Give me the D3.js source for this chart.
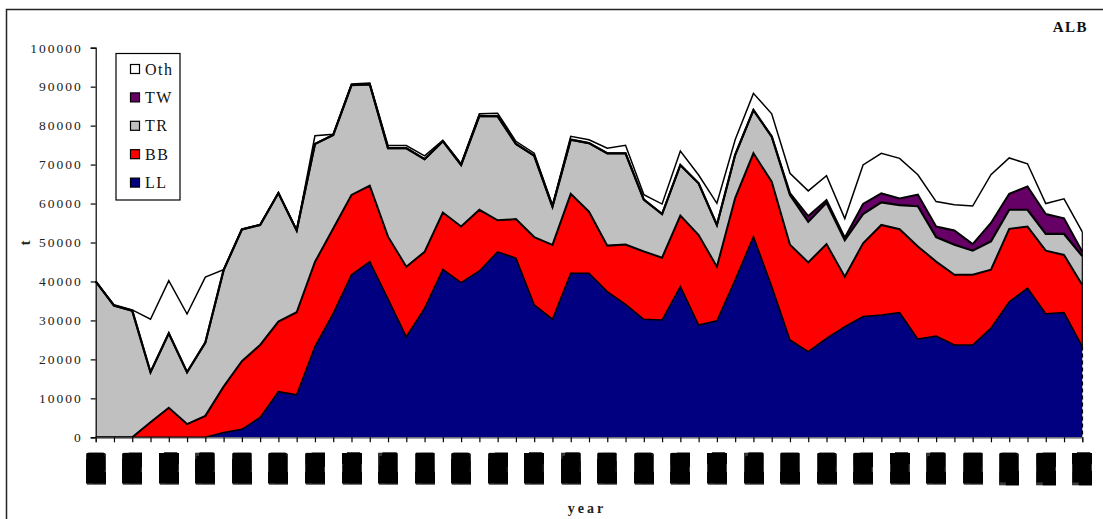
<!DOCTYPE html>
<html>
<head>
<meta charset="utf-8">
<script src="https://cdn.jsdelivr.net/npm/d3@7"></script>
<style>
  html, body { margin: 0; padding: 0; background: #fff; }
  svg { display: block; }
</style>
</head>
<body>
<svg id="chart" width="1103" height="519"></svg>
<script>
const years = [1950,1951,1952,1953,1954,1955,1956,1957,1958,1959,1960,1961,1962,1963,1964,1965,1966,1967,1968,1969,1970,1971,1972,1973,1974,1975,1976,1977,1978,1979,1980,1981,1982,1983,1984,1985,1986,1987,1988,1989,1990,1991,1992,1993,1994,1995,1996,1997,1998,1999,2000,2001,2002,2003,2004];
const LL  = [0,0,0,0,0,0,0,1200,2050,5100,11700,10900,23300,31800,41700,45100,35500,25800,33100,43100,39700,42700,47600,46000,34000,30300,42100,42100,37400,34100,30300,30100,38700,28800,29900,40400,51500,38700,25000,22000,25400,28400,31000,31400,32000,25200,26000,23700,23700,28000,34800,38300,31700,32000,23300];
const BB  = [0,0,0,3850,7600,3400,5500,11800,17500,18600,18000,21200,21700,21800,20500,19500,16000,18000,14500,14600,14400,15700,8100,10000,17400,19100,20400,15800,11800,15400,17400,16000,18200,23100,13900,21000,21400,26900,24400,22900,24200,12800,18800,23100,21400,23800,19100,18000,18000,15000,18700,15800,16200,14800,15800];
const TR  = [40000,33800,32500,12850,19100,13300,18800,29900,33800,30800,33000,21000,30300,24000,28200,26000,22700,30400,23800,18300,15800,24100,26700,19300,20900,9800,13900,17600,23700,23400,13300,11200,13000,13300,10700,11100,11100,11600,12800,10400,10600,9400,7500,5800,6200,10300,6300,7700,6200,7300,4900,4300,4300,5400,7400];
const TW  = [0,0,0,0,0,0,0,0,0,0,0,0,0,0,0,0,0,0,0,0,0,0,0,0,0,0,0,0,0,0,0,0,0,0,0,0,0,0,500,1500,700,650,2600,2300,1700,3000,2700,3700,1700,4700,4100,6000,5100,4000,1100];
const Oth = [0,200,200,13600,13500,14950,16800,100,100,100,100,100,2100,200,260,300,680,680,850,240,300,520,770,670,610,400,840,850,1280,2050,1290,2570,3590,2130,5560,3850,4280,5840,5070,6450,6240,4900,10000,10300,10300,5100,6400,6600,9750,12400,9200,5800,2700,5000,5100];
const seriesNames = ["LL","BB","TR","TW","Oth"];
const seriesColors = ["#000080","#FF0000","#C0C0C0","#660066","#FFFFFF"];
const yTicks = [0,10000,20000,30000,40000,50000,60000,70000,80000,90000,100000];

const svg = d3.select("#chart");
const serif = "'Liberation Serif', 'DejaVu Serif', serif";

// filter that thickens the year labels into solid blocks, as in the reference
const defs = svg.append("defs");
const flt = defs.append("filter").attr("id","blockify").attr("filterUnits","userSpaceOnUse")
  .attr("x",0).attr("y",440).attr("width",1103).attr("height",70);
flt.append("feMorphology").attr("operator","dilate").attr("radius","5.5 5");

// outer frame
svg.append("rect").attr("x",6.5).attr("y",9.5).attr("width",1110).attr("height",530)
  .attr("fill","none").attr("stroke","#222").attr("stroke-width",1.5);

const x = d3.scaleLinear().domain([0, years.length-1]).range([95.7, 1082.3]);
const y = d3.scaleLinear().domain([0, 100000]).range([437.3, 47.7]);

const table = years.map((yr,i) => ({year: yr, i, LL: LL[i], BB: BB[i], TR: TR[i], TW: TW[i], Oth: Oth[i]}));
const stack = d3.stack().keys(seriesNames);
const layers = stack(table);

const area = d3.area().x(d => x(d.data.i)).y0(d => y(d[0])).y1(d => y(d[1]));
const topLine = d3.line().x(d => x(d.data.i)).y(d => y(d[1]));

const g = svg.append("g");
g.selectAll("path.area").data(layers).join("path")
  .attr("class","area")
  .attr("d", area)
  .attr("fill", (d,i) => seriesColors[i]);

const lineW = [1.6, 2, 2.2, 2, 1.5];
g.selectAll("path.top").data(layers).join("path")
  .attr("class","top")
  .attr("d", topLine)
  .attr("fill","none")
  .attr("stroke","#000")
  .attr("stroke-width",(d,i) => lineW[i])
  .attr("stroke-linejoin","miter");

// right edge
const last = years.length-1;
const lastTop = layers[4][last][1];
const llTop = layers[0][last][1];
g.append("line").attr("x1",x(last)).attr("x2",x(last)).attr("y1",y(lastTop)).attr("y2",y(llTop))
  .attr("stroke","#000").attr("stroke-width",1.2);
g.append("line").attr("x1",x(last)).attr("x2",x(last)).attr("y1",y(llTop)).attr("y2",y(0))
  .attr("stroke","#000").attr("stroke-width",1.6).attr("stroke-dasharray","4,3");

// y axis
const yAxis = d3.axisLeft(y).tickValues(yTicks).tickSize(5).tickPadding(10).tickFormat(d3.format("d"));
const ya = svg.append("g").attr("transform","translate(95.7,0)").call(yAxis);
ya.select(".domain").attr("stroke","#000").attr("stroke-width",1.2);
ya.selectAll(".tick line").attr("stroke","#000").attr("stroke-width",1.2);
ya.selectAll(".tick text").attr("font-family",serif).attr("font-size","13.5px")
  .attr("letter-spacing","2px").attr("fill","#222").attr("dx","2px");

// x axis
const xAxis = d3.axisBottom(x).tickValues(d3.range(years.length)).tickSize(5).tickFormat("");
const xa = svg.append("g").attr("transform","translate(0,437.3)").call(xAxis);
xa.select(".domain").attr("stroke","#555").attr("stroke-width",1.2);
xa.selectAll(".tick line").attr("stroke","#000").attr("stroke-width",1.2);

// year labels
svg.append("g").attr("filter","url(#blockify)")
  .selectAll("text").data(years.filter((d,i) => i % 2 === 0)).join("text")
  .attr("transform", d => `translate(${x(years.indexOf(d))},457) rotate(-90)`)
  .attr("text-anchor","end")
  .attr("dy","0.34em")
  .attr("textLength",24).attr("lengthAdjust","spacingAndGlyphs")
  .attr("font-family",serif).attr("font-weight","bold").attr("font-size","12px")
  .attr("fill","#000")
  .text(d => d);

// axis titles
svg.append("text").attr("x",587).attr("y",512.7).attr("text-anchor","middle")
  .attr("font-family",serif).attr("font-weight","bold").attr("font-size","14px")
  .attr("letter-spacing","3px").attr("fill","#222").text("year");
svg.append("text").attr("transform","translate(30,243) rotate(-90)").attr("text-anchor","middle")
  .attr("font-family",serif).attr("font-weight","bold").attr("font-size","15px")
  .attr("fill","#222").text("t");
svg.append("text").attr("x",1088).attr("y",31.7).attr("text-anchor","end")
  .attr("font-family",serif).attr("font-weight","bold").attr("font-size","15px")
  .attr("letter-spacing","1.5px").attr("fill","#111").text("ALB");

// legend
const lg = svg.append("g");
lg.append("rect").attr("x",116).attr("y",53.5).attr("width",64).attr("height",146.5)
  .attr("fill","#fff").attr("stroke","#000").attr("stroke-width",1.2);
const legendOrder = [4,3,2,1,0];
legendOrder.forEach((si, k) => {
  const cy = 69 + k*28.4;
  lg.append("rect").attr("x",130.5).attr("y",cy-4.5).attr("width",9).attr("height",9)
    .attr("fill",seriesColors[si]).attr("stroke","#000").attr("stroke-width",1.2);
  lg.append("text").attr("x",145).attr("y",cy+5.5)
    .attr("font-family",serif).attr("font-size","16px").attr("letter-spacing","1.5px")
    .attr("fill","#111").text(seriesNames[si]);
});
</script>
</body>
</html>
